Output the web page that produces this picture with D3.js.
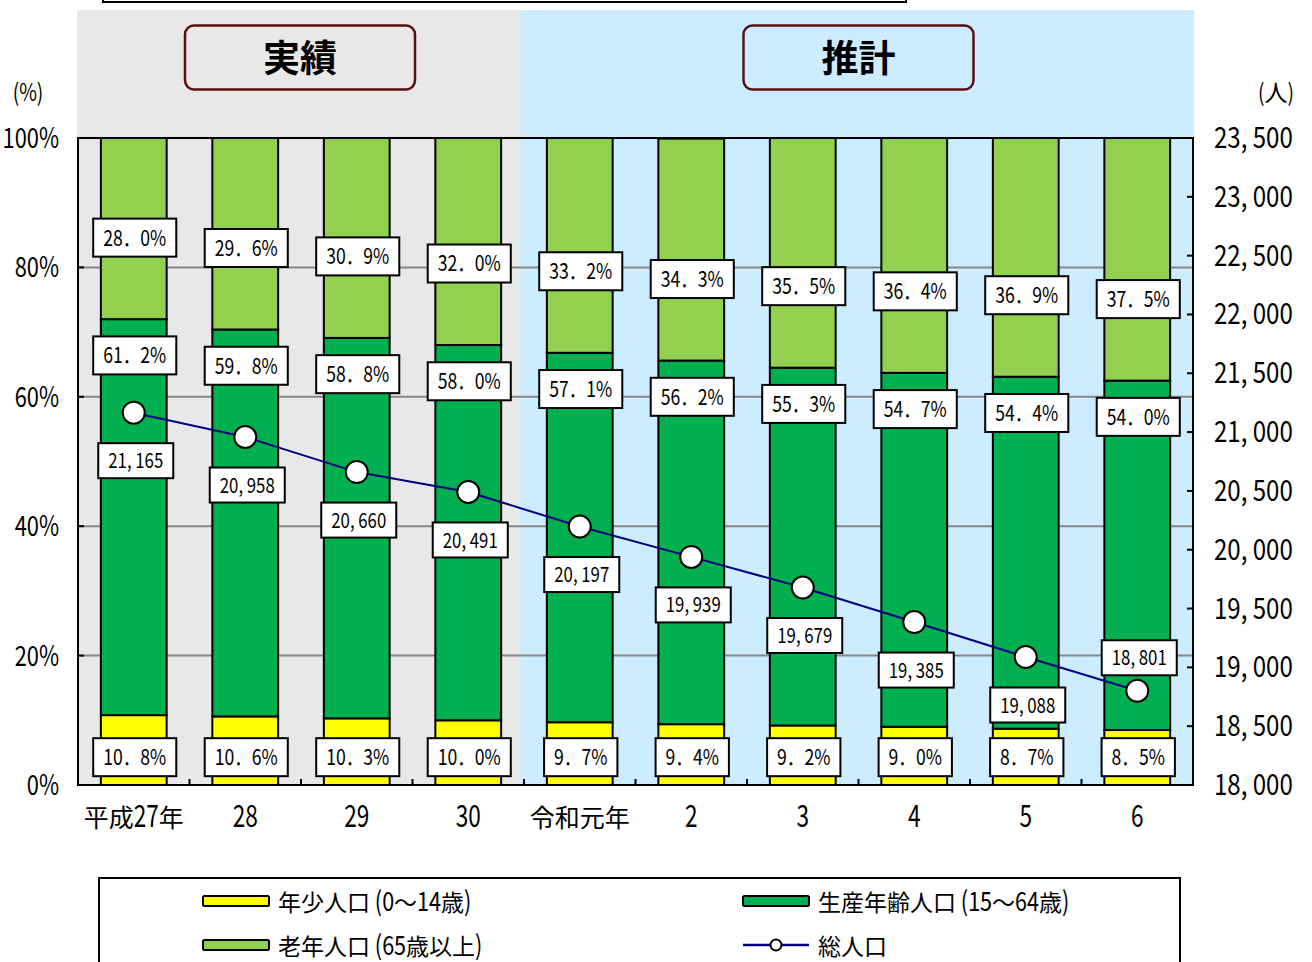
<!DOCTYPE html>
<html><head><meta charset="utf-8">
<script src="https://cdn.jsdelivr.net/npm/d3@7"></script>
<style>body{margin:0;background:#fff}svg{display:block}</style>
</head><body>
<svg id="c" width="1312" height="962"></svg>
<script>
const categories = ["平成27年","28","29","30","令和元年","2","3","4","5","6"];
const young   = [10.8,10.6,10.3,10.0,9.7,9.4,9.2,9.0,8.7,8.5];
const working = [61.2,59.8,58.8,58.0,57.1,56.2,55.3,54.7,54.4,54.0];
const elderly = [28.0,29.6,30.9,32.0,33.2,34.3,35.5,36.4,36.9,37.5];
const total   = [21165,20958,20660,20491,20197,19939,19679,19385,19088,18801];
const leftTicks  = [0,20,40,60,80,100];
const rightTicks = [18000,18500,19000,19500,20000,20500,21000,21500,22000,22500,23000,23500];
const periods = [{label:"実績", from:0, to:4}, {label:"推計", from:4, to:10}];
const seriesNames = ["年少人口 (0～14歳)","生産年齢人口 (15～64歳)","老年人口 (65歳以上)","総人口"];

const colors = {young:"#FFFF00", working:"#00B050", elderly:"#92D050", line:"#000080"};
const bgColors = ["#E8E8E8","#CCECFF"];
const FONT = "'Noto Sans CJK JP','Noto Sans',sans-serif";

const svg = d3.select("#c");
const L = 78, R = 1193, T = 138, B = 785;
const x = d3.scaleBand().domain(categories).range([L, R]).padding(0);
const yP = d3.scaleLinear().domain([0,100]).range([B, T]);
const yN = d3.scaleLinear().domain([18000,23500]).range([B, T]);
const barW = x.bandwidth() * 0.59;
const cx = d => x(d) + x.bandwidth()/2;

// mixed text: ASCII / narrow punctuation condensed, CJK normal
function rich(parent, px, py, str, o) {
  o = Object.assign({size:24, nsize:24, sx:0.8, weight:400, anchor:"start", fill:"#000"}, o);
  const runs = [];
  for (const ch of str) {
    const narrow = /[\x20-\x7e．，]/.test(ch);
    if (runs.length && runs[runs.length-1].narrow === narrow) runs[runs.length-1].s += ch;
    else runs.push({s: ch, narrow});
  }
  const g = parent.append("g");
  let cur = 0;
  runs.forEach(r => {
    const sc = r.narrow ? o.sx : 1;
    const t = g.append("text")
      .attr("font-family", FONT).attr("font-size", r.narrow ? o.nsize : o.size)
      .attr("font-weight", o.weight).attr("fill", o.fill)
      .attr("transform", `translate(${cur},0) scale(${sc},1)`)
      .style("white-space","pre")
      .text(r.s);
    cur += t.node().getComputedTextLength() * sc;
  });
  const off = o.anchor === "middle" ? -cur/2 : o.anchor === "end" ? -cur : 0;
  g.attr("transform", `translate(${px+off},${py})`);
  return cur;
}

// top partially visible frame
svg.append("rect").attr("x",103).attr("y",-30).attr("width",803).attr("height",32)
  .attr("fill","#fff").attr("stroke","#000").attr("stroke-width",2);

// period backgrounds
periods.forEach((p,i) => {
  const x0 = i === 0 ? L - 1 : x(categories[p.from]) - 4;
  const x1 = p.to >= categories.length ? R + 1 : x(categories[p.to]) - 4;
  svg.append("rect").attr("x", x0).attr("y", 10).attr("width", x1 - x0).attr("height", B - 10)
    .attr("fill", bgColors[i]);
});
// period title boxes
periods.forEach((p,i) => {
  const x0 = x(categories[p.from]), x1 = p.to >= categories.length ? R : x(categories[p.to]);
  const mid = (x0 + x1)/2 + (i === 0 ? -1 : 0);
  svg.append("rect").attr("x", mid - 115).attr("y", 25.5).attr("width", 230).attr("height", 64)
    .attr("rx", 9).attr("fill","none").attr("stroke","#5a1010").attr("stroke-width",2.5);
  svg.append("text").attr("x", mid).attr("y", 72).attr("text-anchor","middle")
    .attr("font-family", FONT).attr("font-size", 37).attr("font-weight", 700).text(p.label);
});

// gridlines
svg.append("g").selectAll("line").data(leftTicks.filter(d => d > 0 && d < 100)).join("line")
  .attr("x1", L).attr("x2", R).attr("y1", d => yP(d)).attr("y2", d => yP(d))
  .attr("stroke", "#868686").attr("stroke-width", 2);

// stacked bars
const rows = categories.map((c,i) => ({cat:c, young:young[i], working:working[i], elderly:elderly[i]}));
const keys = ["young","working","elderly"];
const stack = d3.stack().keys(keys)(rows);
stack.forEach(layer => {
  svg.append("g").selectAll("rect").data(layer).join("rect")
    .attr("x", d => cx(d.data.cat) - barW/2)
    .attr("y", d => yP(Math.min(100, d[1])))
    .attr("width", barW)
    .attr("height", d => yP(d[0]) - yP(Math.min(100, d[1])))
    .attr("fill", colors[layer.key]).attr("stroke", "#000").attr("stroke-width", 2);
});

// frame and ticks
svg.append("rect").attr("x", L).attr("y", T).attr("width", R - L).attr("height", B - T)
  .attr("fill","none").attr("stroke","#000").attr("stroke-width",2);
svg.append("g").selectAll("line").data(categories.slice(1)).join("line")
  .attr("x1", d => x(d)).attr("x2", d => x(d)).attr("y1", B).attr("y2", B - 6)
  .attr("stroke","#000").attr("stroke-width",2);
svg.append("g").selectAll("line").data(leftTicks).join("line")
  .attr("x1", L).attr("x2", L + 6).attr("y1", d => yP(d)).attr("y2", d => yP(d))
  .attr("stroke","#000").attr("stroke-width",2);
svg.append("g").selectAll("line").data(rightTicks).join("line")
  .attr("x1", R - 6).attr("x2", R).attr("y1", d => yN(d)).attr("y2", d => yN(d))
  .attr("stroke","#000").attr("stroke-width",2);

// axis labels
leftTicks.forEach(t => rich(svg, 59, yP(t) + 10, t + "%", {nsize:28, sx:0.78, anchor:"end"}));
rightTicks.forEach(t => rich(svg, 1214, yN(t) + 10, d3.format(",")(t).replace(",", ", "), {nsize:29, sx:0.83}));
rich(svg, 28, 101, "(%)", {size:22, nsize:24, sx:0.8, anchor:"middle"});
rich(svg, 1276, 101, "(人)", {size:23, nsize:24, sx:0.8, anchor:"middle"});
categories.forEach(c => rich(svg, cx(c), 827, c, {size:25, nsize:31, sx:0.73, anchor:"middle"}));

// value label helper
function labelBox(px, py, str, h, nsize) {
  const g = svg.append("g");
  const rect = g.append("rect");
  const w = rich(g, px, py + nsize*0.36, str, {nsize, sx:0.8, anchor:"middle"});
  rect.attr("x", px - w/2 - 10).attr("y", py - h/2).attr("width", w + 20).attr("height", h)
    .attr("fill","#fff").attr("stroke","#000").attr("stroke-width",2);
}
const pct = v => v.toFixed(1).replace(".", "．") + "%";
categories.forEach((c,i) => {
  labelBox(cx(c) + 1, yP(4.3), pct(young[i]), 38, 22);
  labelBox(cx(c) + 1, yP(young[i] + working[i] - 5.6), pct(working[i]), 38, 22);
  labelBox(cx(c) + 1, yP(young[i] + working[i] + 12.6), pct(elderly[i]), 38, 22);
});

// total population line
const pts = categories.map((c,i) => [cx(c), yN(total[i])]);
svg.append("path").attr("d", d3.line()(pts)).attr("fill","none")
  .attr("stroke", colors.line).attr("stroke-width", 2);
svg.append("g").selectAll("circle").data(pts).join("circle")
  .attr("cx", d => d[0]).attr("cy", d => d[1]).attr("r", 11)
  .attr("fill","#fff").attr("stroke","#000").attr("stroke-width",2);
categories.forEach((c,i) => {
  const below = i < categories.length - 1;
  labelBox(cx(c) + 2, yN(total[i]) + (below ? 48 : -33), d3.format(",")(total[i]).replace(",", ", "), 35, 21);
});

// legend
svg.append("rect").attr("x", 99).attr("y", 878).attr("width", 1081).attr("height", 120)
  .attr("fill","#fff").attr("stroke","#000").attr("stroke-width",2);
const legend = [
  {name: seriesNames[0], type:"bar", color: colors.young,   x:203, y:901},
  {name: seriesNames[1], type:"bar", color: colors.working, x:743, y:901},
  {name: seriesNames[2], type:"bar", color: colors.elderly, x:203, y:945},
  {name: seriesNames[3], type:"line", color: colors.line,   x:743, y:945}
];
legend.forEach(l => {
  if (l.type === "bar") {
    svg.append("rect").attr("x", l.x).attr("y", l.y - 5).attr("width", 66).attr("height", 10)
      .attr("rx", 1.5).attr("fill", l.color).attr("stroke","#000").attr("stroke-width",2);
  } else {
    svg.append("line").attr("x1", l.x).attr("x2", l.x + 66).attr("y1", l.y).attr("y2", l.y)
      .attr("stroke", l.color).attr("stroke-width", 2.5);
    svg.append("circle").attr("cx", l.x + 33).attr("cy", l.y).attr("r", 5.5)
      .attr("fill","#fff").attr("stroke","#000").attr("stroke-width",2);
  }
  rich(svg, l.x + 75, l.y + 10, l.name, {size:23, nsize:27, sx:0.8});
});
</script>
</body></html>
